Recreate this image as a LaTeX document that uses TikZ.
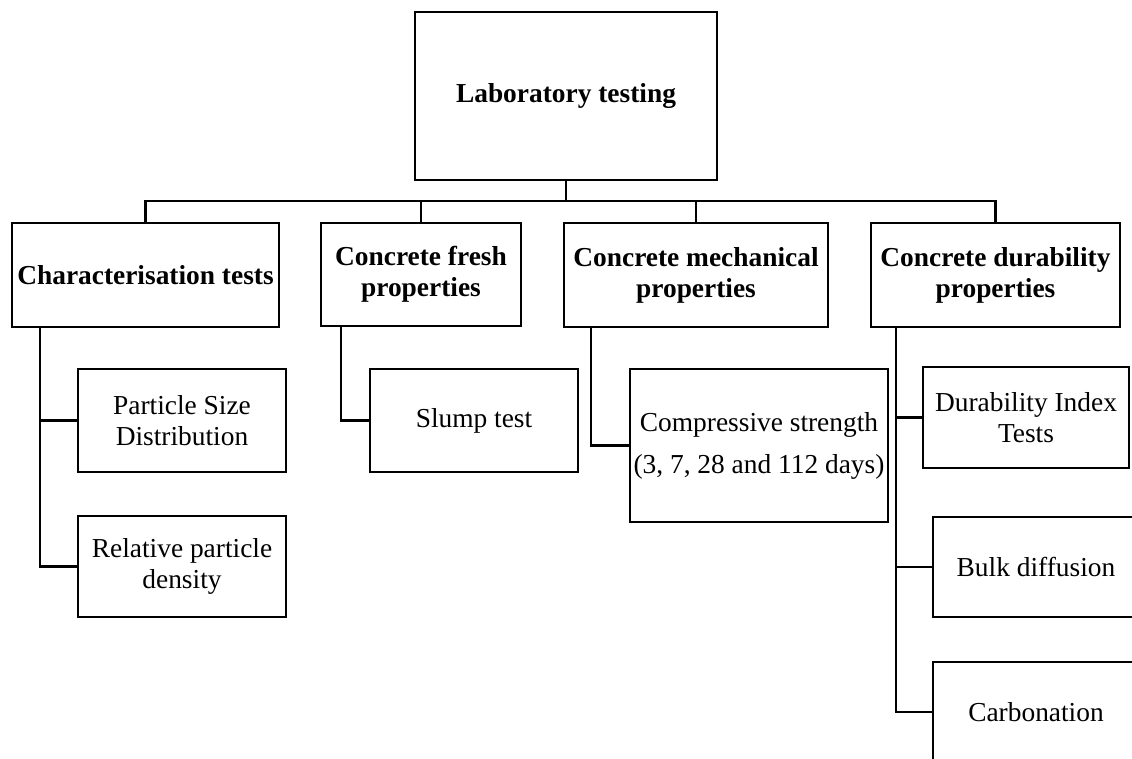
\documentclass[tikz,border=0pt]{standalone}
\usepackage{fontspec}
\setmainfont{Liberation Serif}
\begin{document}
\begin{tikzpicture}[x=1pt,y=-1pt,
  line width=2.6pt,
  box/.style={draw=black, line width=2.8pt, rectangle, inner sep=0pt,
    align=center, font=\fontsize{27.4}{31}\selectfont},
  head/.style={box, font=\fontsize{27.4}{31}\selectfont\bfseries},
  link/.style={draw=black, line width=2.6pt}]
\useasboundingbox (0,0) rectangle (1132,758);

% root
\node[head, minimum width=302pt, minimum height=168pt] (top) at (566,96) {Laboratory testing};

% test groups
\node[head, minimum width=267pt, minimum height=104pt] (char) at (145.5,275) {Characterisation tests};
\node[head, minimum width=200pt, minimum height=103pt] (fresh) at (421,274.5) {Concrete fresh\\properties};
\node[head, minimum width=264pt, minimum height=104pt] (mech) at (696,275) {Concrete mechanical\\properties};
\node[head, minimum width=249pt, minimum height=104pt] (dur) at (995.5,275) {Concrete durability\\properties};

% individual tests
\node[box, minimum width=208pt, minimum height=103pt] (psd) at (182,420.5) {Particle Size\\Distribution};
\node[box, minimum width=208pt, minimum height=101pt] (rpd) at (182,566.5) {Relative particle\\density};
\node[box, minimum width=208pt, minimum height=103pt] (slump) at (474,420.5) {Slump test};
\node[box, minimum width=258pt, minimum height=153pt] (comp) at (759,445.5) {Compressive strength\\[11pt](3, 7, 28 and 112 days)};
\node[box, minimum width=206pt, minimum height=101pt] (di) at (1026,417.5) {Durability Index\\Tests};
\node[box, minimum width=206pt, minimum height=100pt] (bulk) at (1036,567) {Bulk diffusion};
\node[box, minimum width=206pt, minimum height=100pt] (carb) at (1036,712) {Carbonation};

% main bus
\coordinate (bus) at (566,201);
\draw[link] (top.south) -- (bus);
\draw[link] (char.north) |- (bus);
\draw[link] (dur.north) |- (bus);
\draw[link] (fresh.north) -- (fresh.north |- bus);
\draw[link] (mech.north) -- (mech.north |- bus);

% branch feeders
\coordinate (charfoot) at (40,327);
\coordinate (freshfoot) at (341,326);
\coordinate (mechfoot) at (591,327);
\coordinate (durfoot) at (896,327);

\draw[link] (charfoot) |- (psd.west);
\draw[link] (charfoot) |- (rpd.west);
\draw[link] (freshfoot) |- (slump.west);
\draw[link] (mechfoot) |- (comp.west);
\draw[link] (durfoot) |- (di.west);
\draw[link] (durfoot) |- (bulk.west);
\draw[link] (durfoot) |- (carb.west);
\end{tikzpicture}
\end{document}
